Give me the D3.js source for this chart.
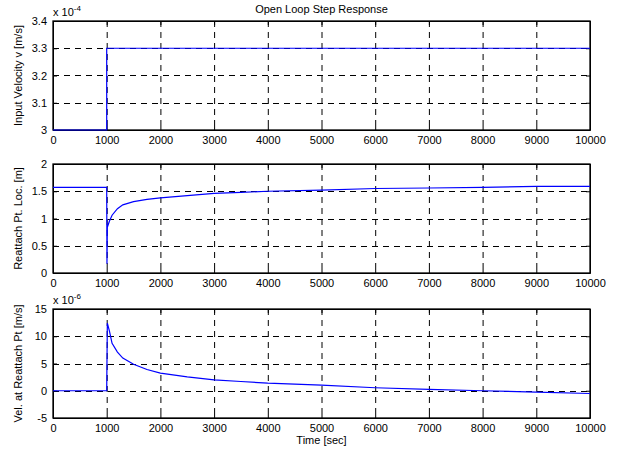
<!DOCTYPE html>
<html>
<head>
<meta charset="utf-8">
<script src="https://cdn.jsdelivr.net/npm/d3@7"></script>
<style>
  html, body { margin: 0; padding: 0; background: #fff; }
  svg { display: block; font-family: "Liberation Sans", Arial, sans-serif; }
</style>
</head>
<body>
<svg id="chart" width="623" height="453"></svg>
<script>
// ---- data ----
const xTicks = [0, 1000, 2000, 3000, 4000, 5000, 6000, 7000, 8000, 9000, 10000];

const velTime = [0, 1000, 1000, 10000];
const velValues = [3.0e-4, 3.0e-4, 3.3e-4, 3.3e-4];
const velTicks = [3.0e-4, 3.1e-4, 3.2e-4, 3.3e-4, 3.4e-4];

const locTime = [0, 1000, 1005, 1012, 1050, 1100, 1200, 1300, 1500, 1750, 2000, 2500, 3000, 3500, 4000, 5000, 6000, 7000, 8000, 9000, 10000];
const locValues = [1.57, 1.57, 0.17, 0.84, 0.95, 1.06, 1.18, 1.25, 1.31, 1.35, 1.38, 1.42, 1.46, 1.48, 1.50, 1.52, 1.55, 1.56, 1.57, 1.59, 1.59];
const locTicks = [0, 0.5, 1, 1.5, 2];

const rvTime = [0, 1000, 1012, 1050, 1100, 1200, 1300, 1500, 1750, 2000, 2500, 3000, 3500, 4000, 5000, 6000, 7000, 8000, 9000, 10000];
const rvValues = [0, 0, 12.4e-6, 11.0e-6, 8.7e-6, 7.1e-6, 6.0e-6, 4.85e-6, 3.9e-6, 3.25e-6, 2.55e-6, 2.0e-6, 1.7e-6, 1.4e-6, 1.03e-6, 0.55e-6, 0.24e-6, 0, -0.26e-6, -0.5e-6];
const rvTicks = [-5e-6, 0, 5e-6, 10e-6, 15e-6];

const panels = [
  { time: velTime, values: velValues, ticks: velTicks, domain: [3.0e-4, 3.4e-4], exp: -4, label: "Input Velocity v [m/s]" },
  { time: locTime, values: locValues, ticks: locTicks, domain: [0, 2], exp: 0, label: "Reattach Pt. Loc. [m]" },
  { time: rvTime, values: rvValues, ticks: rvTicks, domain: [-5e-6, 15e-6], exp: -6, label: "Vel. at Reattach Pt [m/s]" }
];

const title = "Open Loop Step Response";
const xLabel = "Time [sec]";

// ---- layout ----
const svg = d3.select("#chart");
const left = 53, right = 590;
const tops = [21, 164, 309];
const h = 109;
const fs = 11;

const x = d3.scaleLinear().domain([0, 10000]).range([left, right]);

panels.forEach((p, i) => {
  const top = tops[i], bottom = top + h;
  const y = d3.scaleLinear().domain(p.domain).range([bottom, top]);
  const scale = Math.pow(10, p.exp);
  const fmt = v => { const r = Math.round(v / scale * 1000) / 1000; return String(r); };
  const g = svg.append("g");

  // grid
  const gridX = xTicks.slice(1, -1);
  g.selectAll(".gx").data(gridX).enter().append("line")
    .attr("x1", d => x(d) + 0.5).attr("x2", d => x(d) + 0.5)
    .attr("y1", top).attr("y2", bottom)
    .attr("stroke", "#000").attr("stroke-width", 1).attr("stroke-dasharray", "6,5");
  const gridY = p.ticks.slice(1, -1);
  g.selectAll(".gy").data(gridY).enter().append("line")
    .attr("x1", left).attr("x2", right)
    .attr("y1", d => Math.round(y(d)) + 0.5).attr("y2", d => Math.round(y(d)) + 0.5)
    .attr("stroke", "#000").attr("stroke-width", 1).attr("stroke-dasharray", "6,5");

  // axes (MATLAB style ticks inward on all sides)
  const axB = d3.axisBottom(x).tickValues(xTicks).tickSizeInner(-4).tickSizeOuter(0).tickPadding(6).tickFormat(d3.format("d"));
  const axT = d3.axisTop(x).tickValues(xTicks).tickSizeInner(-4).tickSizeOuter(0).tickFormat("");
  const axL = d3.axisLeft(y).tickValues(p.ticks).tickSizeInner(-4).tickSizeOuter(0).tickPadding(6).tickFormat(fmt);
  const axR = d3.axisRight(y).tickValues(p.ticks).tickSizeInner(-4).tickSizeOuter(0).tickFormat("");

  [[axB, `translate(0,${bottom})`], [axT, `translate(0,${top})`], [axL, `translate(${left},0)`], [axR, `translate(${right},0)`]].forEach(([ax, tr]) => {
    const a = g.append("g").attr("transform", tr).call(ax);
    a.selectAll("path").attr("stroke", "#000").attr("stroke-width", 1);
    a.selectAll("line").attr("stroke", "#000");
    a.selectAll("text").attr("font-size", fs).attr("font-family", "Liberation Sans, Arial, sans-serif").attr("fill", "#000");
  });

  // frame
  g.append("rect").attr("x", left).attr("y", top).attr("width", right - left).attr("height", h)
    .attr("fill", "none").attr("stroke", "#000").attr("stroke-width", 1.3);

  // data line (on top of frame)
  const pts = p.time.map((t, k) => [t, p.values[k]]);
  g.append("path")
    .datum(pts)
    .attr("fill", "none")
    .attr("stroke", "#0000ff")
    .attr("stroke-width", 1.2)
    .attr("d", d3.line().x(d => x(d[0])).y(d => y(d[1])));

  // y label
  svg.append("text")
    .attr("transform", `translate(22,${top + h / 2}) rotate(-90)`)
    .attr("text-anchor", "middle")
    .attr("font-size", fs)
    .text(p.label);

  // exponent
  if (p.exp !== 0) {
    const t = svg.append("text").attr("x", left).attr("y", top - 5).attr("font-size", fs);
    t.append("tspan").text("x 10");
    t.append("tspan").attr("dy", -5).attr("font-size", 8).text(String(p.exp));
  }
});

svg.append("text").attr("x", (left + right) / 2).attr("y", 13).attr("text-anchor", "middle").attr("font-size", fs).text(title);
svg.append("text").attr("x", (left + right) / 2).attr("y", 444).attr("text-anchor", "middle").attr("font-size", fs).text(xLabel);
</script>
</body>
</html>
